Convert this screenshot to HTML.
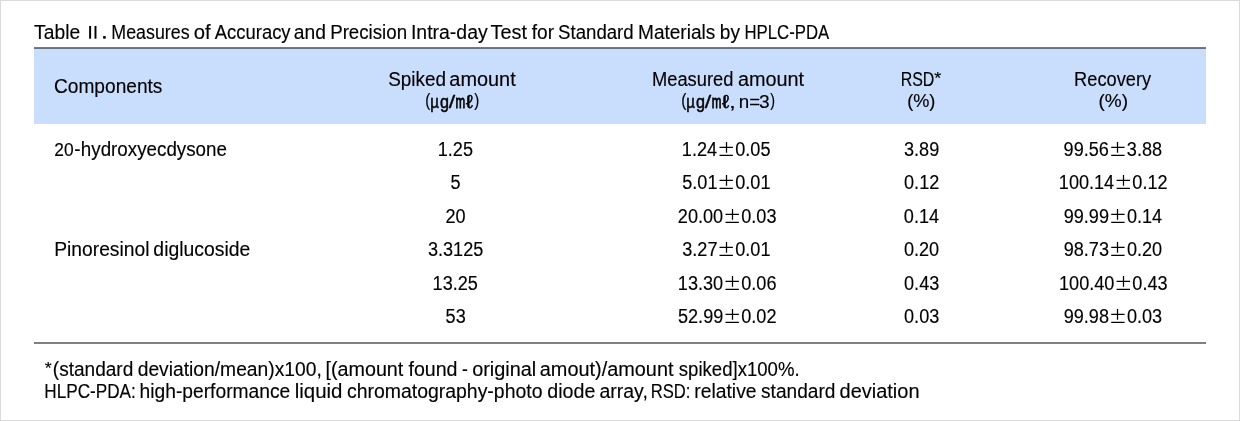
<!DOCTYPE html>
<html><head><meta charset="utf-8"><style>
html,body{margin:0;padding:0;background:#fff}
#c{position:relative;width:1240px;height:421px;overflow:hidden;background:#fff;font-family:"Liberation Sans",sans-serif;color:#000}
.t{position:absolute;left:0;top:0;white-space:nowrap;transform-origin:0 0;filter:grayscale(1);-webkit-text-stroke:0.15px #000}
.bd{position:absolute;background:#dadada}
.ln{position:absolute;left:34px;width:1172px}
svg{position:absolute;left:0;top:0}
</style></head><body><div id="c">
<div class="bd" style="left:0;top:0;width:1240px;height:1px"></div>
<div class="bd" style="left:0;top:420px;width:1240px;height:1px"></div>
<div class="bd" style="left:0;top:0;width:1px;height:421px"></div>
<div class="bd" style="left:1239px;top:0;width:1px;height:421px"></div>
<div class="ln" style="top:47px;height:1px;background:#787877"></div>
<div class="ln" style="top:48px;height:1px;background:#6a7282"></div>
<div class="ln" style="top:49px;height:75px;background:#c9ddfc"></div>
<div class="ln" style="top:342px;height:2px;background:#808080"></div>
<svg width="1240" height="421" viewBox="0 0 1240 421">
<rect x="89.15" y="26" width="1.95" height="12.7"/><rect x="94.5" y="26" width="1.95" height="12.7"/><rect x="103.1" y="36.1" width="2.7" height="2.6" rx="0.7"/>
<g stroke="#000" stroke-width="1.25" fill="none"><path d="M719.50 147.40h13.4M726.50 141.90v10.8M719.50 155.25h13.4"/><path d="M1111.20 147.40h13.4M1117.50 141.90v10.8M1111.20 155.25h13.4"/><path d="M719.50 180.40h13.4M726.50 174.90v10.8M719.50 188.25h13.4"/><path d="M1116.60 180.40h13.4M1123.50 174.90v10.8M1116.60 188.25h13.4"/><path d="M725.50 214.40h13.4M732.50 208.90v10.8M725.50 222.25h13.4"/><path d="M1111.20 214.40h13.4M1117.50 208.90v10.8M1111.20 222.25h13.4"/><path d="M719.50 247.40h13.4M726.50 241.90v10.8M719.50 255.25h13.4"/><path d="M1111.20 247.40h13.4M1117.50 241.90v10.8M1111.20 255.25h13.4"/><path d="M725.50 281.40h13.4M732.50 275.90v10.8M725.50 289.25h13.4"/><path d="M1116.60 281.40h13.4M1123.50 275.90v10.8M1116.60 289.25h13.4"/><path d="M725.50 314.40h13.4M732.50 308.90v10.8M725.50 322.25h13.4"/><path d="M1111.20 314.40h13.4M1117.50 308.90v10.8M1111.20 322.25h13.4"/></g>
</svg>
<div class="t" style="font-size:20px;line-height:20px;transform:translate(34.12px,22.00px) scaleX(0.9630)">Table</div>
<div class="t" style="font-size:20px;line-height:20px;transform:translate(111.32px,22.00px) scaleX(0.8912)">Measures</div>
<div class="t" style="font-size:20px;line-height:20px;transform:translate(193.74px,22.00px) scaleX(1.0132)">of</div>
<div class="t" style="font-size:20px;line-height:20px;transform:translate(214.80px,22.00px) scaleX(0.9213)">Accuracy</div>
<div class="t" style="font-size:20px;line-height:20px;transform:translate(293.75px,22.00px) scaleX(0.9626)">and</div>
<div class="t" style="font-size:20px;line-height:20px;transform:translate(330.16px,22.00px) scaleX(0.9351)">Precision</div>
<div class="t" style="font-size:20px;line-height:20px;transform:translate(410.93px,22.00px) scaleX(0.9729)">Intra-day</div>
<div class="t" style="font-size:20px;line-height:20px;transform:translate(490.61px,22.00px) scaleX(0.9940)">Test</div>
<div class="t" style="font-size:20px;line-height:20px;transform:translate(531.76px,22.00px) scaleX(0.9540)">for</div>
<div class="t" style="font-size:20px;line-height:20px;transform:translate(558.10px,22.00px) scaleX(0.9310)">Standard</div>
<div class="t" style="font-size:20px;line-height:20px;transform:translate(638.03px,22.00px) scaleX(0.9519)">Materials</div>
<div class="t" style="font-size:20px;line-height:20px;transform:translate(719.87px,22.00px) scaleX(0.9534)">by</div>
<div class="t" style="font-size:20px;line-height:20px;transform:translate(744.51px,22.00px) scaleX(0.8378)">HPLC-PDA</div>
<div class="t" style="font-size:20px;line-height:20px;transform:translate(53.98px,76.00px) scaleX(0.9563)">Components</div>
<div class="t" style="font-size:20px;line-height:20px;transform:translate(388.19px,69.00px) scaleX(0.9449)">Spiked</div>
<div class="t" style="font-size:20px;line-height:20px;transform:translate(449.32px,69.00px) scaleX(0.9953)">amount</div>
<div class="t" style="font-size:20px;line-height:20px;transform:translate(651.99px,69.00px) scaleX(0.9157)">Measured</div>
<div class="t" style="font-size:20px;line-height:20px;transform:translate(737.93px,69.00px) scaleX(0.9923)">amount</div>
<div class="t" style="font-size:20px;line-height:20px;transform:translate(900.67px,69.00px) scaleX(0.7975)">RSD</div>
<div class="t" style="font-size:16.5px;line-height:16.5px;transform:translate(934.26px,69.78px) scaleX(1.0866)">*</div>
<div class="t" style="font-size:18.5px;line-height:18.5px;transform:translate(907.17px,92.00px) scaleX(0.9809)">(%)</div>
<div class="t" style="font-size:20px;line-height:20px;transform:translate(1074.09px,69.00px) scaleX(0.9113)">Recovery</div>
<div class="t" style="font-size:18.5px;line-height:18.5px;transform:translate(1098.52px,92.00px) scaleX(1.0264)">(%)</div>
<div class="t" style="font-size:18.4px;line-height:18.4px;transform:translate(54.26px,141.00px) scaleX(0.9433)">20</div>
<div class="t" style="font-size:20px;line-height:20px;transform:translate(74.29px,139.00px) scaleX(0.9363)">-</div>
<div class="t" style="font-size:20px;line-height:20px;transform:translate(80.84px,139.00px) scaleX(0.9384)">hydroxyecdysone</div>
<div class="t" style="font-size:20px;line-height:20px;transform:translate(54.21px,239.00px) scaleX(0.9625)">Pinoresinol</div>
<div class="t" style="font-size:20px;line-height:20px;transform:translate(153.37px,239.00px) scaleX(0.9683)">diglucoside</div>
<div class="t" style="font-size:16px;line-height:16px;transform:translate(44.65px,360.99px) scaleX(1.1127)">*</div>
<div class="t" style="font-size:18.5px;line-height:18.5px;transform:translate(425.26px,91.06px) scaleX(0.8127)">(</div>
<div class="t" style="font-size:18.5px;line-height:18.5px;transform:translate(430.20px,93.00px) scaleX(0.8141);-webkit-text-stroke-width:0.5px">µ</div>
<div class="t" style="font-size:18.5px;line-height:18.5px;transform:translate(439.97px,93.00px) scaleX(0.8700);-webkit-text-stroke-width:0.5px">g</div>
<div class="t" style="font-size:18.5px;line-height:18.5px;transform:translate(448.75px,93.00px) scaleX(1.2528);-webkit-text-stroke-width:0.3px">/</div>
<div class="t" style="font-size:18.5px;line-height:18.5px;transform:translate(455.59px,93.00px) scaleX(0.6269);-webkit-text-stroke-width:0.9px">m</div>
<div class="t" style="font-size:18.5px;line-height:18.5px;transform:translate(465.87px,93.00px) scaleX(1.1693);-webkit-text-stroke-width:0.5px">ℓ</div>
<div class="t" style="font-size:18.5px;line-height:18.5px;transform:translate(474.25px,91.12px) scaleX(0.8198)">)</div>
<div class="t" style="font-size:18.5px;line-height:18.5px;transform:translate(681.24px,91.06px) scaleX(0.8346)">(</div>
<div class="t" style="font-size:18.5px;line-height:18.5px;transform:translate(686.30px,93.00px) scaleX(0.8141);-webkit-text-stroke-width:0.5px">µ</div>
<div class="t" style="font-size:18.5px;line-height:18.5px;transform:translate(696.07px,93.00px) scaleX(0.8700);-webkit-text-stroke-width:0.5px">g</div>
<div class="t" style="font-size:18.5px;line-height:18.5px;transform:translate(704.85px,93.00px) scaleX(1.2528);-webkit-text-stroke-width:0.3px">/</div>
<div class="t" style="font-size:18.5px;line-height:18.5px;transform:translate(711.69px,93.00px) scaleX(0.6269);-webkit-text-stroke-width:0.9px">m</div>
<div class="t" style="font-size:18.5px;line-height:18.5px;transform:translate(721.97px,93.00px) scaleX(1.1693);-webkit-text-stroke-width:0.5px">ℓ</div>
<div class="t" style="font-size:18.5px;line-height:18.5px;transform:translate(729.04px,93.00px) scaleX(1.3394)">,</div>
<div class="t" style="font-size:18.5px;line-height:18.5px;transform:translate(738.84px,93.00px) scaleX(1.0135)">n</div>
<div class="t" style="font-size:18.5px;line-height:18.5px;transform:translate(749.33px,93.00px) scaleX(0.9976)">=</div>
<div class="t" style="font-size:18.5px;line-height:18.5px;transform:translate(759.05px,93.00px) scaleX(1.0380)">3</div>
<div class="t" style="font-size:18.5px;line-height:18.5px;transform:translate(770.27px,91.12px) scaleX(0.7766)">)</div>
<div class="t" style="font-size:20px;line-height:20px;transform:translate(52.83px,359.00px) scaleX(0.9521)">(standard</div>
<div class="t" style="font-size:20px;line-height:20px;transform:translate(137.68px,359.00px) scaleX(0.9628)">deviation/mean)x100,</div>
<div class="t" style="font-size:20px;line-height:20px;transform:translate(325.45px,359.00px) scaleX(0.9868)">[(amount</div>
<div class="t" style="font-size:20px;line-height:20px;transform:translate(408.45px,359.00px) scaleX(0.9805)">found</div>
<div class="t" style="font-size:20px;line-height:20px;transform:translate(462.03px,359.00px) scaleX(0.8766)">-</div>
<div class="t" style="font-size:20px;line-height:20px;transform:translate(472.15px,359.00px) scaleX(0.9938)">original</div>
<div class="t" style="font-size:20px;line-height:20px;transform:translate(539.82px,359.00px) scaleX(0.9938)">amout)/amount</div>
<div class="t" style="font-size:20px;line-height:20px;transform:translate(678.77px,359.00px) scaleX(0.9290)">spiked]x100%.</div>
<div class="t" style="font-size:20px;line-height:20px;transform:translate(44.27px,381.00px) scaleX(0.8579)">HLPC-PDA:</div>
<div class="t" style="font-size:20px;line-height:20px;transform:translate(139.51px,381.00px) scaleX(0.9620)">high-performance</div>
<div class="t" style="font-size:20px;line-height:20px;transform:translate(294.66px,381.00px) scaleX(1.0231)">liquid</div>
<div class="t" style="font-size:20px;line-height:20px;transform:translate(346.98px,381.00px) scaleX(0.9713)">chromatography-photo</div>
<div class="t" style="font-size:20px;line-height:20px;transform:translate(547.26px,381.00px) scaleX(0.9838)">diode</div>
<div class="t" style="font-size:20px;line-height:20px;transform:translate(599.54px,381.00px) scaleX(0.9723)">array,</div>
<div class="t" style="font-size:20px;line-height:20px;transform:translate(650.72px,381.00px) scaleX(0.8312)">RSD:</div>
<div class="t" style="font-size:20px;line-height:20px;transform:translate(694.23px,381.00px) scaleX(0.9667)">relative</div>
<div class="t" style="font-size:20px;line-height:20px;transform:translate(761.05px,381.00px) scaleX(0.9550)">standard</div>
<div class="t" style="font-size:20px;line-height:20px;transform:translate(839.55px,381.00px) scaleX(0.9989)">deviation</div>
<div class="t" style="font-size:20px;line-height:20px;transform:translate(437.73px,139.00px) scaleX(0.9050)">1.25</div>
<div class="t" style="font-size:20px;line-height:20px;transform:translate(904.00px,139.00px) scaleX(0.9050)">3.89</div>
<div class="t" style="font-size:20px;line-height:20px;transform:translate(681.81px,139.00px) scaleX(0.9050)">1.24</div>
<div class="t" style="font-size:20px;line-height:20px;transform:translate(735.22px,139.00px) scaleX(0.9050)">0.05</div>
<div class="t" style="font-size:20px;line-height:20px;transform:translate(1063.62px,139.00px) scaleX(0.9050)">99.56</div>
<div class="t" style="font-size:20px;line-height:20px;transform:translate(1126.83px,139.00px) scaleX(0.9050)">3.88</div>
<div class="t" style="font-size:20px;line-height:20px;transform:translate(450.54px,172.00px) scaleX(0.9050)">5</div>
<div class="t" style="font-size:20px;line-height:20px;transform:translate(904.05px,172.00px) scaleX(0.9050)">0.12</div>
<div class="t" style="font-size:20px;line-height:20px;transform:translate(682.26px,172.00px) scaleX(0.9050)">5.01</div>
<div class="t" style="font-size:20px;line-height:20px;transform:translate(735.22px,172.00px) scaleX(0.9050)">0.01</div>
<div class="t" style="font-size:20px;line-height:20px;transform:translate(1058.81px,172.00px) scaleX(0.9050)">100.14</div>
<div class="t" style="font-size:20px;line-height:20px;transform:translate(1132.32px,172.00px) scaleX(0.9050)">0.12</div>
<div class="t" style="font-size:20px;line-height:20px;transform:translate(445.50px,206.00px) scaleX(0.9050)">20</div>
<div class="t" style="font-size:20px;line-height:20px;transform:translate(903.82px,206.00px) scaleX(0.9050)">0.14</div>
<div class="t" style="font-size:20px;line-height:20px;transform:translate(677.85px,206.00px) scaleX(0.9050)">20.00</div>
<div class="t" style="font-size:20px;line-height:20px;transform:translate(741.22px,206.00px) scaleX(0.9050)">0.03</div>
<div class="t" style="font-size:20px;line-height:20px;transform:translate(1063.67px,206.00px) scaleX(0.9050)">99.99</div>
<div class="t" style="font-size:20px;line-height:20px;transform:translate(1126.92px,206.00px) scaleX(0.9050)">0.14</div>
<div class="t" style="font-size:20px;line-height:20px;transform:translate(427.94px,239.00px) scaleX(0.9050)">3.3125</div>
<div class="t" style="font-size:20px;line-height:20px;transform:translate(903.92px,239.00px) scaleX(0.9050)">0.20</div>
<div class="t" style="font-size:20px;line-height:20px;transform:translate(682.27px,239.00px) scaleX(0.9050)">3.27</div>
<div class="t" style="font-size:20px;line-height:20px;transform:translate(735.22px,239.00px) scaleX(0.9050)">0.01</div>
<div class="t" style="font-size:20px;line-height:20px;transform:translate(1063.65px,239.00px) scaleX(0.9050)">98.73</div>
<div class="t" style="font-size:20px;line-height:20px;transform:translate(1126.92px,239.00px) scaleX(0.9050)">0.20</div>
<div class="t" style="font-size:20px;line-height:20px;transform:translate(432.62px,273.00px) scaleX(0.9050)">13.25</div>
<div class="t" style="font-size:20px;line-height:20px;transform:translate(904.03px,273.00px) scaleX(0.9050)">0.43</div>
<div class="t" style="font-size:20px;line-height:20px;transform:translate(677.85px,273.00px) scaleX(0.9050)">13.30</div>
<div class="t" style="font-size:20px;line-height:20px;transform:translate(741.22px,273.00px) scaleX(0.9050)">0.06</div>
<div class="t" style="font-size:20px;line-height:20px;transform:translate(1059.00px,273.00px) scaleX(0.9050)">100.40</div>
<div class="t" style="font-size:20px;line-height:20px;transform:translate(1132.32px,273.00px) scaleX(0.9050)">0.43</div>
<div class="t" style="font-size:20px;line-height:20px;transform:translate(445.58px,306.00px) scaleX(0.9050)">53</div>
<div class="t" style="font-size:20px;line-height:20px;transform:translate(904.03px,306.00px) scaleX(0.9050)">0.03</div>
<div class="t" style="font-size:20px;line-height:20px;transform:translate(677.97px,306.00px) scaleX(0.9050)">52.99</div>
<div class="t" style="font-size:20px;line-height:20px;transform:translate(741.22px,306.00px) scaleX(0.9050)">0.02</div>
<div class="t" style="font-size:20px;line-height:20px;transform:translate(1063.65px,306.00px) scaleX(0.9050)">99.98</div>
<div class="t" style="font-size:20px;line-height:20px;transform:translate(1126.92px,306.00px) scaleX(0.9050)">0.03</div>
</div></body></html>
